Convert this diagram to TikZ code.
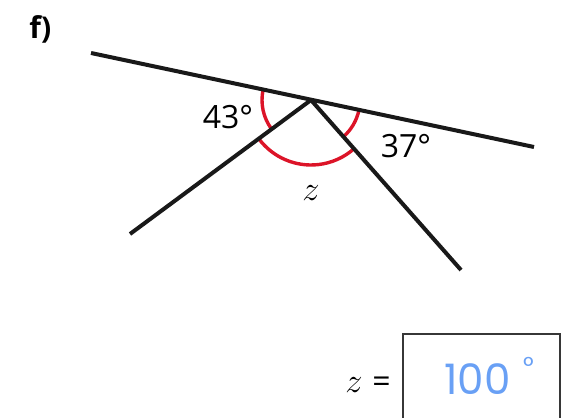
\documentclass[tikz,border=0pt]{standalone}
\usepackage{fontspec}
\setmainfont{Open Sans}
\newfontfamily\handfont{Poppins}
\definecolor{arcred}{RGB}{220,20,40}
\definecolor{inkblue}{RGB}{105,160,245}
\definecolor{boxgray}{RGB}{55,55,55}

\begin{document}
\begin{tikzpicture}[x=0.5pt, y=0.5pt,
    seg/.style={line width=2pt, black!90},
    angarc/.style={line width=1.7pt, arcred},
    deg/.style={font=\fontsize{16}{18}\selectfont, inner sep=0pt}]
  \useasboundingbox (0,0) rectangle (572,417);
  % points of the figure
  \coordinate (V) at (311,317);
  \coordinate (P) at (91,364);
  \coordinate (Q) at (534,270);
  \coordinate (A) at (130,183);
  \coordinate (B) at (461,147);
  % angle marks under the lines
  \draw[angarc] (V) ++(167.9:49) arc[start angle=167.9, end angle=216.5, radius=49];
  \draw[angarc] (V) ++(216.5:65) arc[start angle=216.5, end angle=311.4, radius=65];
  \draw[angarc] (V) ++(311.4:49) arc[start angle=311.4, end angle=348, radius=49];
  \draw[seg] (P) -- (Q);
  \draw[seg] (V) -- (A);
  \draw[seg] (V) -- (B);
  \node[deg, anchor=base] (a43) at (228,288) {43°};
  \node[deg, anchor=base] (a37) at (406,259) {37°};
  \node[inner sep=0pt, font=\fontsize{18}{20}\selectfont] (zl) at (311,224) {$z$};
  \node[anchor=base west, inner sep=0pt, font=\bfseries\fontsize{15}{18}\selectfont] (part) at (29,378) {f)};
  % answer box
  \node[deg, anchor=base] (zeq) at (368,25) {$z$\hspace{0.3em}=};
  \draw[boxgray, line width=0.8pt] (403,-10) -- (403,83) -- (560,83) -- (560,-10);
  \node[anchor=base west, inner sep=0pt, inkblue, font=\handfont\fontsize{21}{22}\selectfont] (ans) at (444,23)
    {100\hspace{0.3em}\raisebox{0.45em}{\fontsize{13}{14}\selectfont°}};
\end{tikzpicture}
\end{document}
